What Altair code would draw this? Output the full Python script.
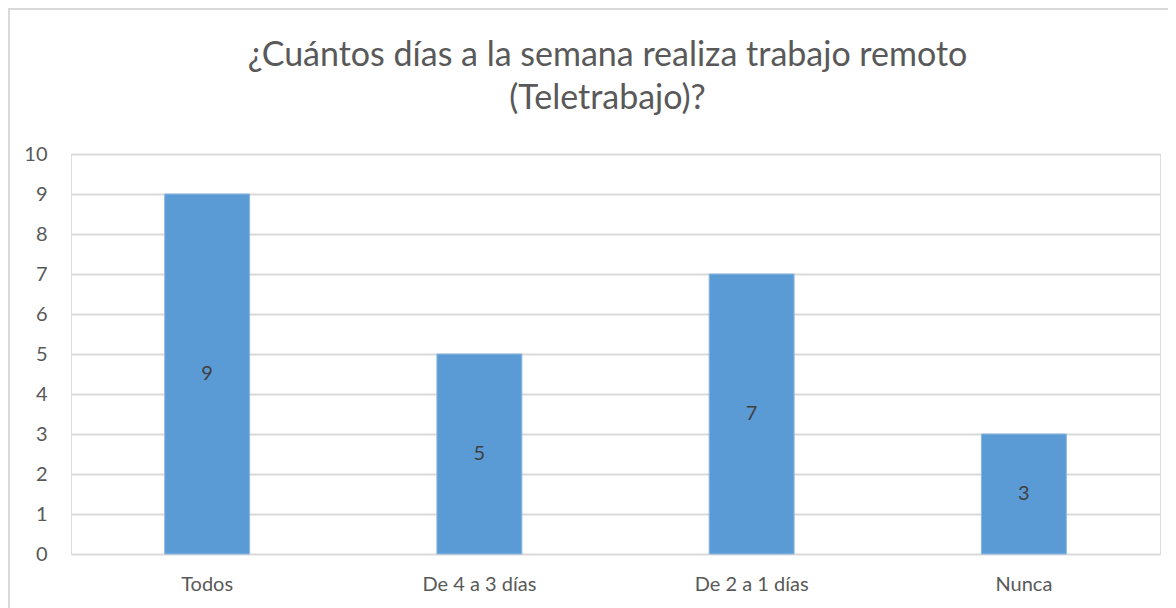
import altair as alt
import pandas as pd

categories = ["Todos", "De 4 a 3 días", "De 2 a 1 días", "Nunca"]
values = [9, 5, 7, 3]
y_ticks = list(range(0, 11))
title_lines = ["¿Cuántos días a la semana realiza trabajo remoto", "(Teletrabajo)?"]

df = pd.DataFrame({"cat": categories, "val": values})
df["mid"] = df["val"] / 2

W, H = 1089, 400
FONT = "Lato"
LBL = 20

x_axis = alt.Axis(labelAngle=0, labelFontSize=LBL, labelColor="#595959",
                  labelFont=FONT, ticks=False, domain=False, labelPadding=20, grid=False)
y_axis = alt.Axis(values=y_ticks, labelFontSize=LBL, labelColor="#595959",
                  labelFont=FONT, ticks=False, domain=False, labelPadding=24,
                  gridColor="#d9d9d9", gridWidth=2, labelOverlap=False)
x_scale = alt.Scale(paddingInner=0.688, paddingOuter=0.344)
y_scale = alt.Scale(domain=[0, 10], nice=False)

frame = alt.Chart(pd.DataFrame({"k": [0]})).mark_rect(
    fill=None, stroke="#d9d9d9", strokeWidth=2
).encode(x=alt.value(-62), x2=alt.value(W + 60), y=alt.value(-145), y2=alt.value(H + 120))

title1 = alt.Chart(pd.DataFrame({"t": [title_lines[0]]})).mark_text(
    fontSize=34, font=FONT, color="#595959", baseline="alphabetic", align="center"
).encode(text="t:N", x=alt.value(W / 2 - 8), y=alt.value(-88))

title2 = alt.Chart(pd.DataFrame({"t": [title_lines[1]]})).mark_text(
    fontSize=34, font=FONT, color="#595959", baseline="alphabetic", align="center"
).encode(text="t:N", x=alt.value(W / 2 - 8), y=alt.value(-45))

bars = alt.Chart(df).mark_bar(color="#5b9bd5", stroke="#8fb8e0", strokeWidth=1).encode(
    x=alt.X("cat:N", sort=categories, title=None, scale=x_scale, axis=x_axis),
    y=alt.Y("val:Q", title=None, scale=y_scale, axis=y_axis),
)

labels = alt.Chart(df).mark_text(fontSize=LBL, color="#404040", font=FONT).encode(
    x=alt.X("cat:N", sort=categories, title=None, scale=x_scale, axis=x_axis),
    y=alt.Y("mid:Q", title=None, scale=y_scale, axis=y_axis),
    text=alt.Text("val:Q"),
)

chart = alt.layer(frame, title1, title2, bars, labels).properties(
    width=W, height=H,
    autosize=alt.AutoSizeParams(type="none"),
    padding={"left": 63, "top": 146, "right": 8, "bottom": 54},
).configure_view(stroke=None).configure(background="white")

chart.save("out.html", embed_options={"renderer": "svg", "actions": False})
